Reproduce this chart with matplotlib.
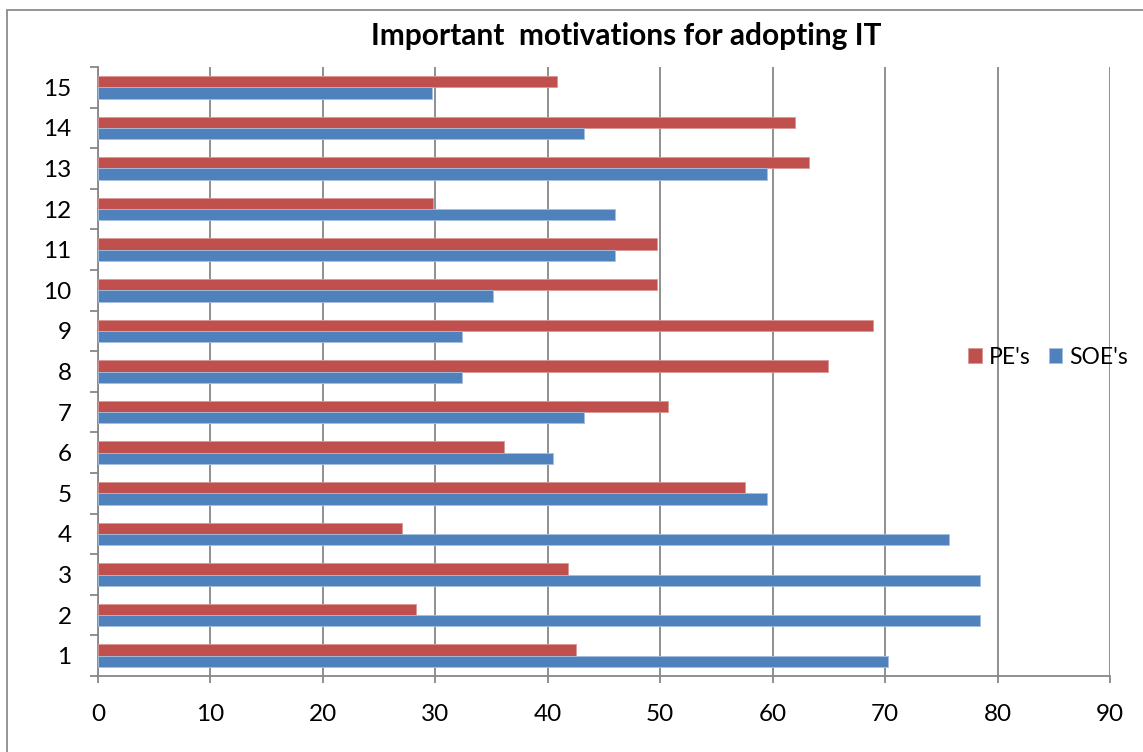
import numpy as np
import matplotlib
matplotlib.use("Agg")
import matplotlib.pyplot as plt
from matplotlib.patches import Rectangle

plt.rcParams['font.family'] = ['Lato', 'DejaVu Sans']

# survey items 1..15, percentage of firms
items = [str(i) for i in range(1, 16)]
soe = [70.3, 78.4, 78.4, 75.7, 59.5, 40.5, 43.2, 32.4, 32.4, 35.1, 46.0, 46.0, 59.5, 43.2, 29.7]
pe = [42.5, 28.3, 41.8, 27.0, 57.5, 36.1, 50.7, 64.9, 68.9, 49.7, 49.7, 29.8, 63.2, 62.0, 40.8]

red = '#C0504D'
blue = '#4F81BD'
grid_c = '#878787'

fig = plt.figure(figsize=(11.43, 7.52), dpi=100)
ax = fig.add_axes([98/1143, 1-676/752, (1110-98)/1143, (676-67)/752])

y = np.arange(1, len(items) + 1)
h = 0.278
ax.barh(y + h/2, pe, height=h, color=red, edgecolor='#D99795', linewidth=0.6, label="PE's", zorder=3)
ax.barh(y - h/2, soe, height=h, color=blue, edgecolor='#A7C0DE', linewidth=0.6, label="SOE's", zorder=3)

ax.set_xlim(0, 90)
ax.set_ylim(0.5, 15.5)
ax.set_xticks(np.arange(0, 91, 10))
ax.set_yticks(y)
ax.set_yticklabels(items)
ax.set_yticks(np.arange(0.5, 15.6, 1), minor=True)

ax.grid(axis='x', color=grid_c, linewidth=1.3, zorder=0)
for s in ['top', 'right']:
    ax.spines[s].set_visible(False)
for s in ['left', 'bottom']:
    ax.spines[s].set_color(grid_c)
    ax.spines[s].set_linewidth(1.3)

ax.tick_params(axis='x', direction='out', length=5, width=1.3, color=grid_c,
               labelsize=17.5, pad=15)
ax.tick_params(axis='y', which='major', length=0, labelsize=17.5, pad=19)
ax.tick_params(axis='y', which='minor', direction='out', length=6, width=1.3, color=grid_c)

fig.text(626/1143, 1-36/752, 'Important  motivations for adopting IT',
         ha='center', va='center', fontsize=21.5, fontweight='bold')

handles, labels = ax.get_legend_handles_labels()
fig.legend(handles, labels, loc='center left', bbox_to_anchor=(968/1143, 1-357/752),
           ncol=2, frameon=False, fontsize=16.5, handlelength=0.6, handleheight=0.6,
           handletextpad=0.3, columnspacing=0.8, borderaxespad=0, borderpad=0)

# outer chart frame
fig.patches.append(Rectangle((7/1143, -0.1), 1.2, 1-9.5/752 + 0.1, transform=fig.transFigure,
                             fill=False, edgecolor='#8C8C8C', linewidth=1.3, clip_on=False))

fig.savefig('out.png', dpi=100)
